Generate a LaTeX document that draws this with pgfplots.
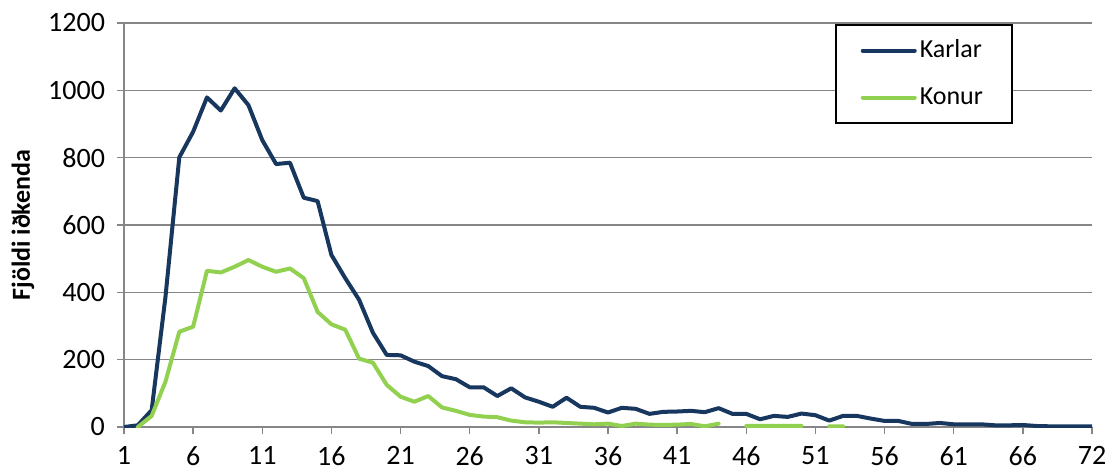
\documentclass[border=0pt]{standalone}
\usepackage{pgfplots}
\usepackage{pgfplotstable}
\pgfplotsset{compat=1.18}
\usepackage{fontspec}
\setmainfont{Carlito}
\definecolor{karlar}{HTML}{17375E}
\definecolor{konur}{HTML}{92D050}
\definecolor{gridgray}{HTML}{868686}
\pgfplotstableread{
x y
1 0
2 5
3 50
4 387
5 801
6 877
7 979
8 940
9 1006
10 956
11 852
12 781
13 785
14 681
15 671
16 511
17 442
18 378
19 280
20 214
21 213
22 194
23 181
24 151
25 142
26 118
27 118
28 92
29 115
30 88
31 75
32 60
33 87
34 60
35 57
36 43
37 57
38 54
39 39
40 45
41 46
42 48
43 44
44 56
45 39
46 39
47 23
48 33
49 30
50 40
51 35
52 19
53 33
54 33
55 25
56 18
57 18
58 9
59 9
60 12
61 8
62 8
63 8
64 5
65 5
66 6
67 3
68 2
69 2
70 2
71 2
}\karlartable
\pgfplotstableread{
x y
1 nan
2 0
3 33
4 135
5 283
6 298
7 464
8 459
9 476
10 496
11 476
12 461
13 471
14 442
15 342
16 305
17 289
18 203
19 191
20 125
21 90
22 75
23 92
24 58
25 48
26 36
27 31
28 29
29 19
30 14
31 13
32 14
33 12
34 10
35 8
36 10
37 3
38 10
39 7
40 6
41 7
42 9
43 2
44 10
45 nan
46 3
47 3
48 3
49 3
50 3
51 nan
52 2
53 2
54 nan
}\konurtable
\begin{document}
\begin{tikzpicture}
\begin{axis}[
  scale only axis, width=484pt, height=202pt,
  xmin=1, xmax=71, ymin=0, ymax=1200,
  xtick={1,6,...,66,71},
  xticklabels={1,6,11,16,21,26,31,36,41,46,51,56,61,66,72},
  ytick={0,200,...,1200},
  ymajorgrids, grid style={gridgray, line width=0.75pt},
  axis x line*=bottom, axis y line*=left,
  axis line style={gridgray, line width=0.75pt},
  tick style={gridgray, line width=0.75pt},
  tick align=outside, major tick length=3.5pt,
  tick label style={font=\fontsize{14}{16}\selectfont, text=black},
  /pgf/number format/assume math mode=true,
  /pgf/number format/1000 sep={},
  xticklabel style={inner sep=0pt, anchor=north, yshift=-6pt},
  yticklabel style={xshift=-2.5pt},
  unbounded coords=jump,
  ylabel={\bfseries Fjöldi iðkenda},
  every axis y label/.style={at={(axis description cs:0,0.5)}, rotate=90, anchor=center, yshift=50.5pt, font=\fontsize{13}{15}\selectfont},
  legend style={at={(axis description cs:0.7345,0.9968)}, anchor=north west,
    draw=black, line width=0.75pt, font=\fontsize{13}{15}\selectfont,
    inner xsep=12.5pt, inner ysep=6pt, row sep=10pt,
    nodes={inner sep=1.5pt, text height=8.5pt, text depth=2pt}},
  legend cell align=left,
  legend image code/.code={\draw[#1, line width=2pt, line cap=round] (0pt,0pt) -- (26pt,0pt);},
]
\addplot[karlar, line width=2pt, line join=round, line cap=round] table[x=x,y=y] {\karlartable};
\addlegendentry{\makebox[32pt][l]{Karlar}}
\addplot[konur, line width=2pt, line join=round, line cap=round] table[x=x,y=y] {\konurtable};
\addlegendentry{\makebox[32pt][l]{Konur}}
\end{axis}
\pgfresetboundingbox
\path (current axis.south west) ++(-62pt,-22pt) rectangle ++(553pt,235.5pt);
\end{tikzpicture}
\end{document}
